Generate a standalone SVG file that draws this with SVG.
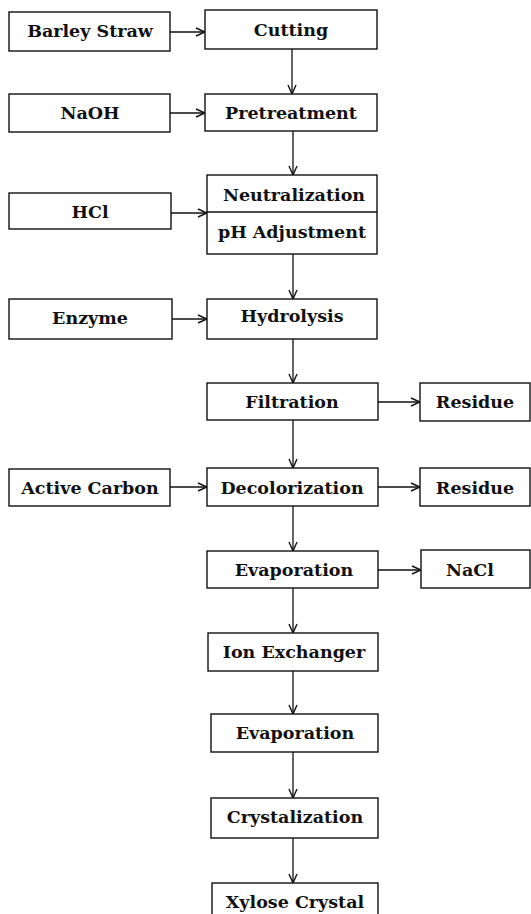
<svg xmlns="http://www.w3.org/2000/svg" width="531" height="914" viewBox="0 0 531 914">
<style>
rect{fill:#fff;stroke:#111;stroke-width:1.4}
text{font-family:"DejaVu Serif","Liberation Serif",serif;font-weight:bold;font-size:17.5px;fill:#111;text-anchor:middle}
.c line{stroke:#111;stroke-width:1.3}
</style>
<defs>
<marker id="a" viewBox="0 0 10 10" refX="10" refY="5" markerWidth="10" markerHeight="10" markerUnits="userSpaceOnUse" orient="auto">
<path d="M1,1 L10,5 L1,9" fill="none" stroke="#111" stroke-width="1.4"/>
</marker>
</defs>
<g class="c">
<line x1="170" y1="32" x2="205" y2="32" marker-end="url(#a)"/>
<line x1="170" y1="113" x2="205" y2="113" marker-end="url(#a)"/>
<line x1="171" y1="213" x2="207" y2="213" marker-end="url(#a)"/>
<line x1="172" y1="319" x2="207" y2="319" marker-end="url(#a)"/>
<line x1="170" y1="487" x2="207" y2="487" marker-end="url(#a)"/>
<line x1="378" y1="402" x2="420" y2="402" marker-end="url(#a)"/>
<line x1="378" y1="487" x2="420" y2="487" marker-end="url(#a)"/>
<line x1="378" y1="570" x2="421" y2="570" marker-end="url(#a)"/>
<line x1="292" y1="49" x2="292" y2="94" marker-end="url(#a)"/>
<line x1="293" y1="131" x2="293" y2="175" marker-end="url(#a)"/>
<line x1="293" y1="254" x2="293" y2="299" marker-end="url(#a)"/>
<line x1="293" y1="339" x2="293" y2="383" marker-end="url(#a)"/>
<line x1="293" y1="420" x2="293" y2="468" marker-end="url(#a)"/>
<line x1="293" y1="506" x2="293" y2="551" marker-end="url(#a)"/>
<line x1="293" y1="588" x2="293" y2="633" marker-end="url(#a)"/>
<line x1="293" y1="671" x2="293" y2="714" marker-end="url(#a)"/>
<line x1="293" y1="752" x2="293" y2="798" marker-end="url(#a)"/>
<line x1="293" y1="838" x2="293" y2="883" marker-end="url(#a)"/>
</g>
<g id="barley"><rect x="9" y="12" width="161" height="39"/><text x="90" y="37">Barley Straw</text></g>
<g id="cutting"><rect x="205" y="10" width="172" height="39"/><text x="291" y="36">Cutting</text></g>
<g id="naoh"><rect x="9" y="94" width="161" height="38"/><text x="90" y="119">NaOH</text></g>
<g id="pretreatment"><rect x="205" y="94" width="172" height="37"/><text x="291" y="119">Pretreatment</text></g>
<g id="hcl"><rect x="9" y="193" width="162" height="36"/><text x="90" y="218">HCl</text></g>
<g id="neutralization"><rect x="207" y="175" width="170" height="79"/><line x1="207" y1="212" x2="377" y2="212" stroke="#111" stroke-width="1.3"/><text x="294" y="201">Neutralization</text><text x="292" y="238">pH Adjustment</text></g>
<g id="enzyme"><rect x="9" y="299" width="163" height="40"/><text x="90" y="324">Enzyme</text></g>
<g id="hydrolysis"><rect x="207" y="299" width="170" height="40"/><text x="292" y="322">Hydrolysis</text></g>
<g id="filtration"><rect x="207" y="383" width="171" height="37"/><text x="292" y="408">Filtration</text></g>
<g id="residue1"><rect x="420" y="383" width="110" height="38"/><text x="475" y="408">Residue</text></g>
<g id="carbon"><rect x="9" y="469" width="161" height="37"/><text x="90" y="494">Active Carbon</text></g>
<g id="decolorization"><rect x="207" y="468" width="171" height="38"/><text x="292" y="494">Decolorization</text></g>
<g id="residue2"><rect x="420" y="468" width="110" height="38"/><text x="475" y="494">Residue</text></g>
<g id="evaporation1"><rect x="207" y="551" width="171" height="37"/><text x="294" y="576">Evaporation</text></g>
<g id="nacl"><rect x="421" y="550" width="109" height="38"/><text x="470" y="576">NaCl</text></g>
<g id="ionexchanger"><rect x="208" y="633" width="170" height="38"/><text x="294" y="658">Ion Exchanger</text></g>
<g id="evaporation2"><rect x="211" y="714" width="167" height="38"/><text x="295" y="739">Evaporation</text></g>
<g id="crystalization"><rect x="211" y="798" width="167" height="40"/><text x="295" y="823">Crystalization</text></g>
<g id="xylose"><rect x="212" y="883" width="166" height="40"/><text x="295" y="908">Xylose Crystal</text></g>
</svg>
